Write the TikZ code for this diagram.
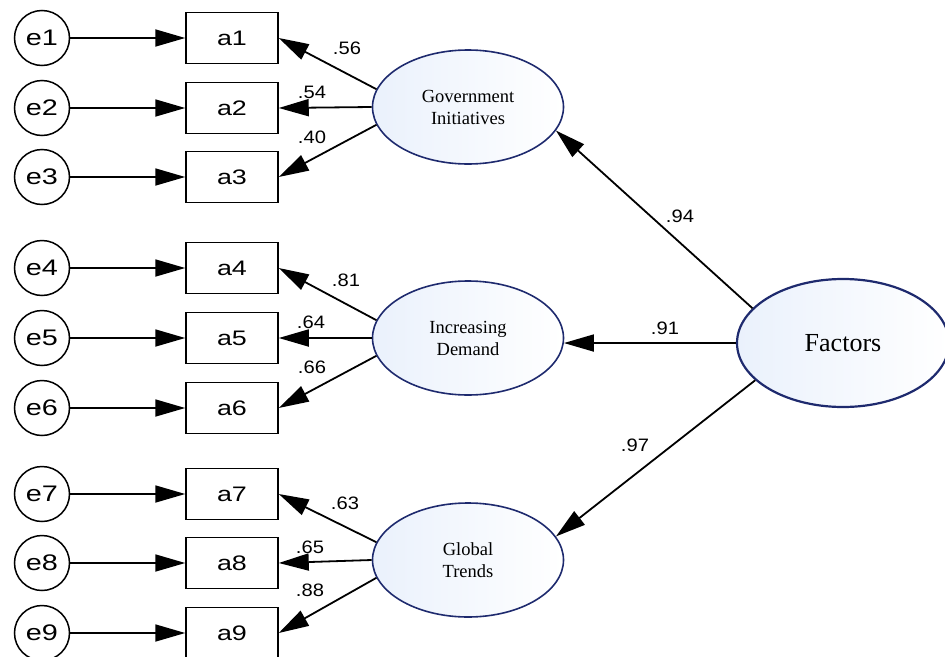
\documentclass[tikz,border=0pt]{standalone}
\usepackage{fontspec}
\setmainfont{Liberation Serif}
\newfontfamily\labfont[FakeStretch=1.28]{Liberation Sans}
\newfontfamily\numfont[FakeStretch=1.12]{Liberation Sans}
\usetikzlibrary{arrows.meta, shapes.geometric}
\definecolor{navy}{RGB}{30,42,110}
\definecolor{paleblue}{RGB}{234,241,252}

\begin{document}
\begin{tikzpicture}[x=1pt, y=-1pt,
    err/.style={circle, draw, line width=1.5pt, minimum size=55pt, inner sep=0pt,
        font=\labfont\fontsize{22.5}{22.5}\selectfont},
    itembox/.style={rectangle, draw, line width=1.5pt, minimum width=92pt,
        minimum height=51pt, inner sep=0pt, font=\labfont\fontsize{21}{21}\selectfont},
    latent/.style={ellipse, draw=navy, line width=1.6pt, left color=paleblue,
        right color=white, minimum width=191pt, minimum height=114pt, inner sep=0pt,
        align=center, font=\fontsize{18.5}{22}\selectfont},
    link/.style={-{Triangle[length=30pt, width=17pt]}, line width=1.8pt},
    num/.style={inner sep=0pt, font=\numfont\fontsize{18}{18}\selectfont}]
    \useasboundingbox (0,0) rectangle (945,656);
    \node[err] (e1) at (42,38) {e1};
    \node[err] (e2) at (42,108) {e2};
    \node[err] (e3) at (42,177) {e3};
    \node[err] (e4) at (42,268) {e4};
    \node[err] (e5) at (42,338) {e5};
    \node[err] (e6) at (42,408) {e6};
    \node[err] (e7) at (42,494) {e7};
    \node[err] (e8) at (42,563) {e8};
    \node[err] (e9) at (42,633) {e9};
    \node[itembox] (a1) at (232,38) {a1};
    \node[itembox] (a2) at (232,108) {a2};
    \node[itembox] (a3) at (232,177) {a3};
    \node[itembox] (a4) at (232,268) {a4};
    \node[itembox] (a5) at (232,338) {a5};
    \node[itembox] (a6) at (232,408) {a6};
    \node[itembox] (a7) at (232,494) {a7};
    \node[itembox] (a8) at (232,563) {a8};
    \node[itembox] (a9) at (232,633) {a9};
    \node[latent] (gov) at (468,107) {Government\\Initiatives};
    \node[latent] (dem) at (468,338) {Increasing\\Demand};
    \node[latent] (glob) at (468,560) {Global\\Trends};
    \node[latent, minimum width=212pt, minimum height=128pt, line width=2.2pt,
        font=\fontsize{26}{26}\selectfont] (fac) at (843,343) {Factors};
    \draw[link] (e1) -- (a1);
    \draw[link] (e2) -- (a2);
    \draw[link] (e3) -- (a3);
    \draw[link] (e4) -- (a4);
    \draw[link] (e5) -- (a5);
    \draw[link] (e6) -- (a6);
    \draw[link] (e7) -- (a7);
    \draw[link] (e8) -- (a8);
    \draw[link] (e9) -- (a9);
    \draw[link] (gov.169) -- (a1.east);
    \draw[link] (gov.west) -- (a2.east);
    \draw[link] (gov.191) -- (a3.east);
    \draw[link] (dem.169) -- (a4.east);
    \draw[link] (dem.west) -- (a5.east);
    \draw[link] (dem.191) -- (a6.east);
    \draw[link] (glob.169) -- (a7.east);
    \draw[link] (glob.west) -- (a8.east);
    \draw[link] (glob.191) -- (a9.east);
    \draw[link] (fac.159) -- (gov.-15);
    \draw[link] (fac.west) -- (dem.-3);
    \draw[link] (fac.203) -- (glob.15);
    \node[num] (w1) at (347,48) {.56};
    \node[num] (w2) at (312,92) {.54};
    \node[num] (w3) at (312,137) {.40};
    \node[num] (w4) at (346,280) {.81};
    \node[num] (w5) at (311,322) {.64};
    \node[num] (w6) at (312,367) {.66};
    \node[num] (w7) at (345,503) {.63};
    \node[num] (w8) at (310,547) {.65};
    \node[num] (w9) at (310,590) {.88};
    \node[num] (w10) at (680,216) {.94};
    \node[num] (w11) at (665,328) {.91};
    \node[num] (w12) at (635,445) {.97};
\end{tikzpicture}
\end{document}
